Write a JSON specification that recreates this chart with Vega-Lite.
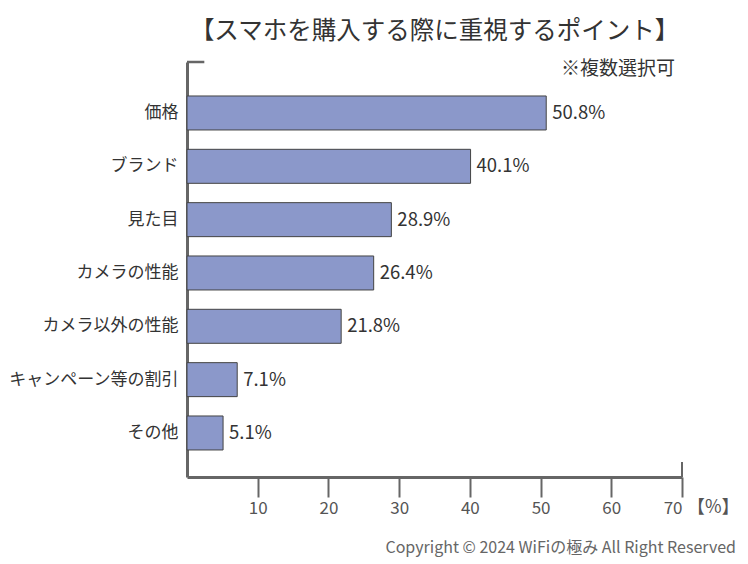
{
  "$schema": "https://vega.github.io/schema/vega-lite/v6.json",
  "width": 495,
  "height": 415,
  "autosize": {"type": "none"},
  "padding": {"left": 187, "top": 62, "right": 66, "bottom": 87},
  "background": "white",
  "config": {
    "view": {"stroke": null},
    "font": "Noto Sans CJK JP",
    "title": {"font": "Noto Sans CJK JP"},
    "axis": {"labelFont": "Noto Sans CJK JP", "titleFont": "Noto Sans CJK JP"},
    "text": {"font": "Noto Sans CJK JP"}
  },
  "title": {
    "text": "【スマホを購入する際に重視するポイント】",
    "fontSize": 24.5,
    "fontWeight": "normal",
    "color": "#333333",
    "anchor": "middle",
    "offset": 16
  },
  "layer": [
    {
      "data": {
        "values": [
          {"item": "価格", "value": 50.8},
          {"item": "ブランド", "value": 40.1},
          {"item": "見た目", "value": 28.9},
          {"item": "カメラの性能", "value": 26.4},
          {"item": "カメラ以外の性能", "value": 21.8},
          {"item": "キャンペーン等の割引", "value": 7.1},
          {"item": "その他", "value": 5.1}
        ]
      },
      "transform": [{"calculate": "format(datum.value, '.1f') + '%'", "as": "label"}],
      "encoding": {
        "y": {
          "field": "item",
          "type": "nominal",
          "sort": null,
          "scale": {"paddingInner": 0.3625, "paddingOuter": 0.572, "align": 0.557},
          "axis": {
            "title": null,
            "ticks": false,
            "domainColor": "#666666",
            "domainWidth": 3,
            "labelFontSize": 17,
            "labelColor": "#333333",
            "labelPadding": 9
          }
        },
        "x": {
          "field": "value",
          "type": "quantitative",
          "scale": {"domain": [0, 70], "nice": false},
          "axis": {
            "title": null,
            "grid": false,
            "values": [10, 20, 30, 40, 50, 60, 70],
            "tickSize": 20,
            "tickWidth": 2,
            "tickColor": "#666666",
            "domainColor": "#666666",
            "domainWidth": 3,
            "labelFontSize": 17,
            "labelColor": "#555555",
            "labelPadding": 3
          }
        }
      },
      "layer": [
        {"mark": {"type": "bar", "fill": "#8b98ca", "stroke": "#444444", "strokeWidth": 1}},
        {
          "mark": {"type": "text", "align": "left", "baseline": "middle", "dx": 6, "fontSize": 18.5, "color": "#333333"},
          "encoding": {"text": {"field": "label", "type": "nominal"}}
        }
      ]
    },
    {
      "data": {"values": [{"note": "※複数選択可", "unit": "【%】", "copy": "Copyright © 2024 WiFiの極み All Right Reserved"}]},
      "encoding": {
        "y": {"datum": 0, "type": "quantitative", "scale": {"domain": [0, 1], "nice": false, "zero": false}, "axis": null}
      },
      "layer": [
        {
          "mark": {"type": "rule", "stroke": "#666666", "strokeWidth": 2},
          "encoding": {"x": {"datum": 70, "type": "quantitative"}, "y2": {"datum": 0.036}}
        },
        {
          "mark": {"type": "rule", "stroke": "#666666", "strokeWidth": 2.5},
          "encoding": {"x": {"datum": 0, "type": "quantitative"}, "x2": {"datum": 2.45}, "y": {"datum": 1, "type": "quantitative"}}
        },
        {
          "mark": {"type": "text", "align": "right", "baseline": "middle", "dx": -7, "dy": 7, "fontSize": 19, "color": "#333333"},
          "encoding": {"x": {"datum": 70, "type": "quantitative"}, "y": {"datum": 1, "type": "quantitative"}, "text": {"field": "note"}}
        },
        {
          "mark": {"type": "text", "align": "left", "baseline": "middle", "dx": 5, "dy": 31, "fontSize": 18, "color": "#555555"},
          "encoding": {"x": {"datum": 70, "type": "quantitative"}, "text": {"field": "unit"}}
        },
        {
          "mark": {"type": "text", "align": "right", "baseline": "middle", "dx": 54, "dy": 71, "fontSize": 16, "color": "#666666"},
          "encoding": {"x": {"datum": 70, "type": "quantitative"}, "text": {"field": "copy"}}
        }
      ]
    }
  ],
  "resolve": {"scale": {"y": "independent"}, "axis": {"y": "independent"}}
}
